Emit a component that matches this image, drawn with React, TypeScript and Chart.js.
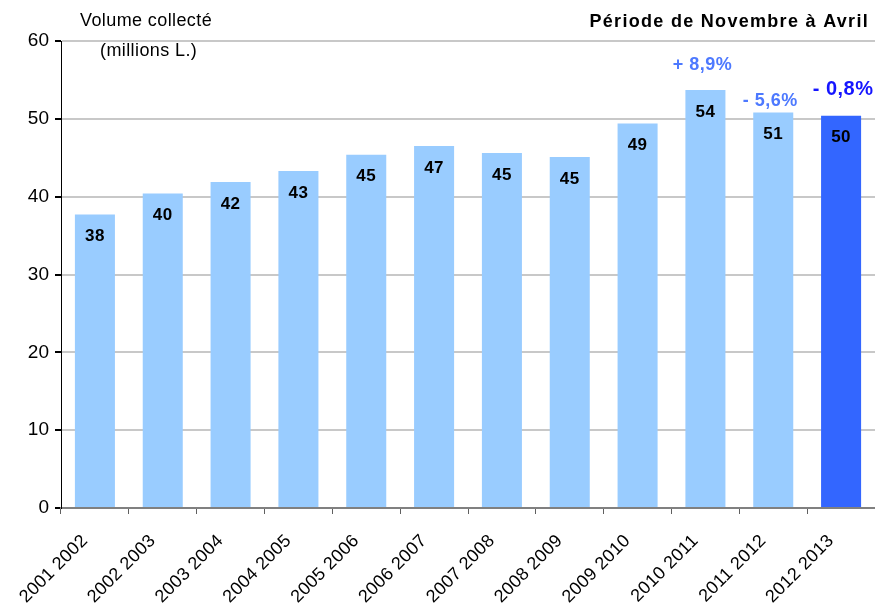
import React, { useEffect, useRef } from "react";
import { Chart, registerables } from "chart.js";
Chart.register(...registerables);

const categories = ["2001 2002", "2002 2003", "2003 2004", "2004 2005", "2005 2006", "2006 2007", "2007 2008", "2008 2009", "2009 2010", "2010 2011", "2011 2012", "2012 2013"];
const volumes = [37.7, 40.4, 41.9, 43.3, 45.4, 46.5, 45.6, 45.1, 49.4, 53.7, 50.8, 50.4];
const valueLabels = ["38", "40", "42", "43", "45", "47", "45", "45", "49", "54", "51", "50"];
const changeLabels = ["", "", "", "", "", "", "", "", "", "+ 8,9%", "- 5,6%", "- 0,8%"];
const barColors = ["#99CCFF", "#99CCFF", "#99CCFF", "#99CCFF", "#99CCFF", "#99CCFF", "#99CCFF", "#99CCFF", "#99CCFF", "#99CCFF", "#99CCFF", "#3366FF"];
const yTicks = [0, 10, 20, 30, 40, 50, 60];

const FONT = "'Liberation Sans', Arial, sans-serif";

const labelPlugin = {
  id: "labels",
  afterDatasetsDraw(chart: any) {
    const ctx = chart.ctx;
    const meta = chart.getDatasetMeta(0);
    const xScale = chart.scales.x;
    ctx.save();
    ctx.textAlign = "center";
    ctx.textBaseline = "middle";
    meta.data.forEach((bar: any, i: number) => {
      ctx.fillStyle = "#000";
      ctx.font = `bold 17px ${FONT}`;
      (ctx as any).letterSpacing = "0.5px";
      ctx.fillText(valueLabels[i], bar.x, bar.y + 22);
      const c = changeLabels[i];
      if (c) {
        const last = i === changeLabels.length - 1;
        ctx.fillStyle = last ? "#1515FF" : "#4D79FF";
        ctx.font = last ? `bold 20px ${FONT}` : `bold 18px ${FONT}`;
        ctx.fillText(c, bar.x + (last ? 2 : -3), bar.y - (last ? 26 : 12 + (i === 9 ? 13 : 0)));
      }
    });
    // category labels, rotated
    (ctx as any).letterSpacing = "0.3px";
    ctx.fillStyle = "#000";
    ctx.font = `18px ${FONT}`;
    ctx.textAlign = "right";
    ctx.textBaseline = "middle";
    categories.forEach((lab, i) => {
      const x = xScale.getPixelForValue(i);
      ctx.save();
      ctx.translate(x - 10, chart.chartArea.bottom + 30);
      ctx.rotate(-Math.PI / 4);
      ctx.fillText(lab, 0, 0);
      ctx.restore();
    });
    // titles
    ctx.fillStyle = "#000";
    ctx.font = `18px ${FONT}`;
    ctx.textAlign = "left";
    (ctx as any).letterSpacing = "0.4px";
    ctx.fillText("Volume collecté", 80, 21);
    ctx.fillText("(millions L.)", 100, 51);
    ctx.font = `bold 18px ${FONT}`;
    ctx.textAlign = "right";
    (ctx as any).letterSpacing = "1.3px";
    ctx.fillText("Période de Novembre à Avril", 869, 22);
    ctx.restore();
  },
};

export default function App() {
  const ref = useRef<HTMLCanvasElement>(null);
  useEffect(() => {
    if (!ref.current) return;
    const chart = new Chart(ref.current, {
      type: "bar",
      data: {
        labels: categories,
        datasets: [
          {
            data: volumes,
            backgroundColor: barColors,
            barPercentage: 0.59,
            categoryPercentage: 1,
          },
        ],
      },
      options: {
        animation: false,
        responsive: false,
        maintainAspectRatio: false,
        layout: { padding: { top: 41, right: 0, left: 0, bottom: 0 } },
        plugins: { legend: { display: false }, tooltip: { enabled: false } },
        scales: {
          x: {
            grid: { offset: true, drawOnChartArea: false, tickLength: 6, color: "#606060" },
            border: { color: "#808080", width: 2 },
            ticks: { display: false },
            afterFit: (s: any) => {
              s.height = 98;
              s.paddingLeft = 0;
              s.paddingRight = 0;
            },
          },
          y: {
            min: 0,
            max: 60,
            afterBuildTicks: (s: any) => {
              s.ticks = yTicks.map((v) => ({ value: v }));
            },
            grid: { color: "#C8C8C8", tickLength: 6, tickColor: "#000", lineWidth: 2 },
            border: { color: "#000", width: 1 },
            ticks: { color: "#000", font: { family: FONT, size: 19 }, padding: 6 },
            afterFit: (s: any) => {
              s.width = 61;
            },
          },
        },
      },
      plugins: [labelPlugin],
    });
    return () => chart.destroy();
  }, []);
  return (
    <div style={{ position: "fixed", left: 0, top: 0, width: 875, height: 606, background: "#fff" }}>
      <canvas ref={ref} width={875} height={606} />
    </div>
  );
}
